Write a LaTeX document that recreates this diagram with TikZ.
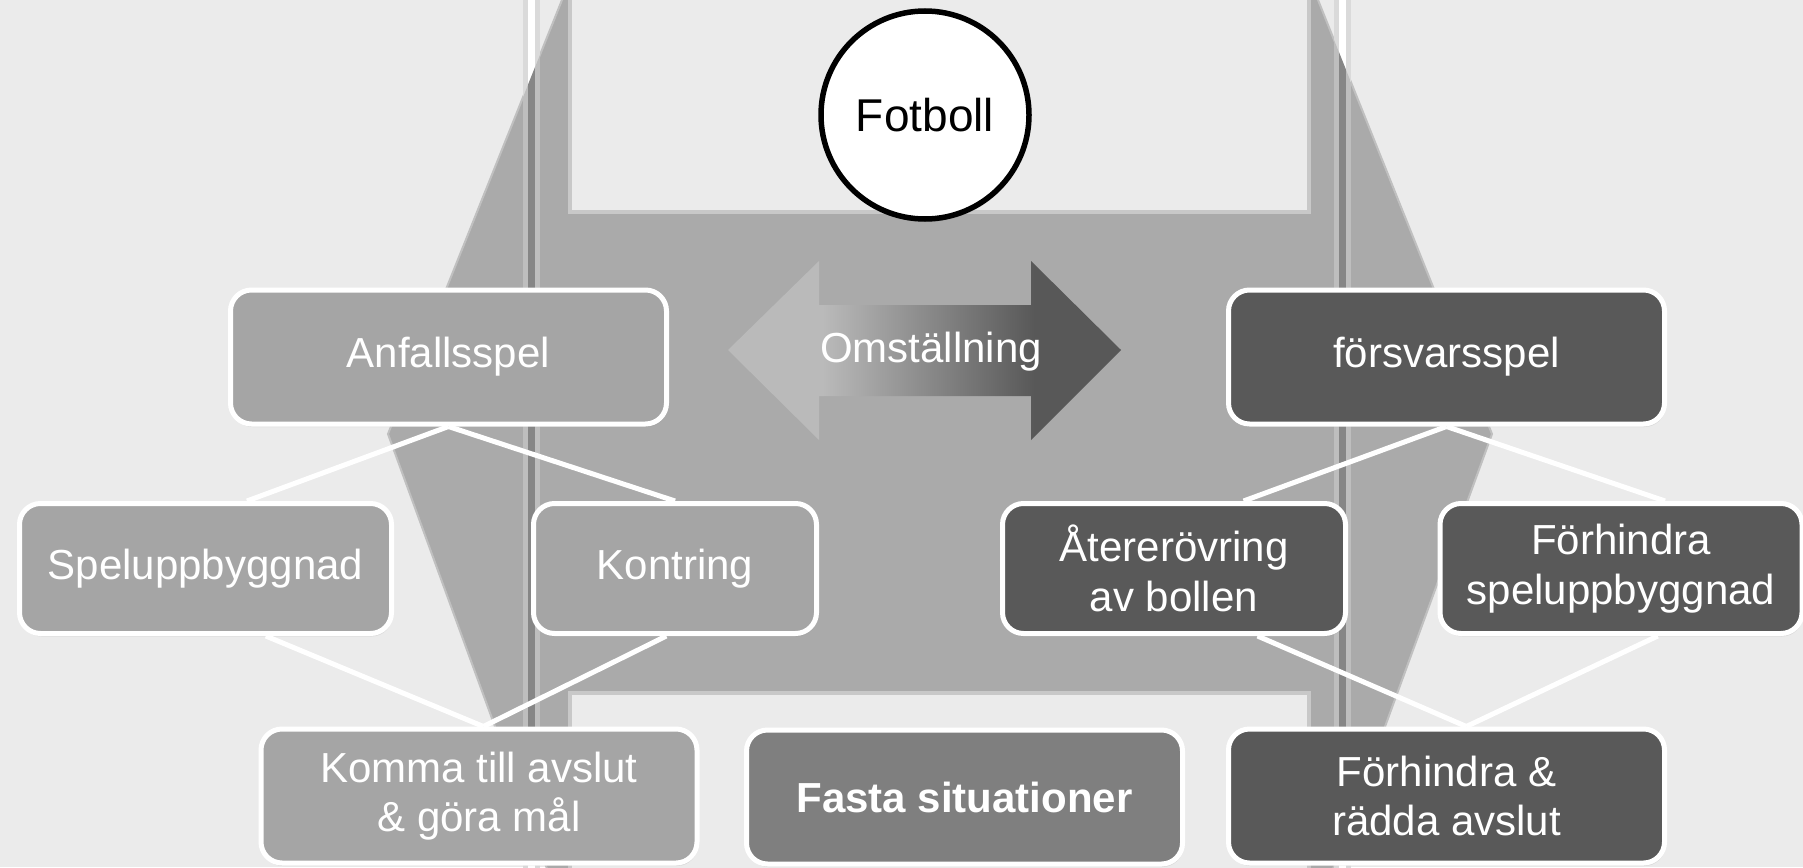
\documentclass[tikz,border=0pt]{standalone}
\usepackage{fontspec}
\setmainfont{Liberation Sans}
\usetikzlibrary{calc,shadows}

\definecolor{bgc}{HTML}{EBEBEB}
\definecolor{fieldc}{HTML}{AAAAAA}
\definecolor{fieldedge}{HTML}{C0C0C0}
\definecolor{rectedge}{HTML}{C8C8C8}
\definecolor{lightbox}{HTML}{A5A5A5}
\definecolor{midbox}{HTML}{7F7F7F}
\definecolor{darkbox}{HTML}{595959}
\definecolor{postside}{HTML}{BEBEBE}
\definecolor{postcore}{HTML}{868686}
\definecolor{postsideout}{HTML}{DADADA}
\definecolor{arrowl}{HTML}{BABABA}
\definecolor{arrowr}{HTML}{585858}

% light on the left head, dark on the right head, blend along the shaft
\pgfdeclarehorizontalshading{omst}{100bp}{color(0bp)=(arrowl); color(37bp)=(arrowl); color(64bp)=(arrowr); color(100bp)=(arrowr)}

\tikzset{
  box/.style={rectangle, rounded corners=21pt, draw=white, line width=5pt,
    text=white, align=center, inner sep=0pt,
    font=\fontsize{42}{49.5}\selectfont,
    drop shadow={opacity=0.18, shadow xshift=1pt, shadow yshift=-3pt}},
  wide/.style={box, minimum width=436pt, minimum height=134pt},
  mid/.style={box, minimum height=130pt},
  conn/.style={draw=white, line width=5pt},
}

\begin{document}
\begin{tikzpicture}[x=1pt, y=-1pt]
  \useasboundingbox (0,0) rectangle (1803,867);
  \clip (0,0) rectangle (1803,867);
  \fill[bgc] (0,0) rectangle (1803,867);

  % pitch outline
  \def\pitch{(566,-10) -- (1314,-10) -- (1492,434) -- (1330,877) -- (550,877) -- (388,434) -- cycle}
  \fill[fieldc] \pitch;
  \draw[fieldedge, line width=2pt] \pitch;

  % goal areas
  \draw[fill=bgc, draw=rectedge, line width=4pt] (570,-10) rectangle (1309,212);
  \draw[fill=bgc, draw=rectedge, line width=4pt] (570,693) rectangle (1309,880);

  % goal posts, light where they cross the background
  \foreach \px in {531.5,1342}{
    \draw[postsideout, line width=17pt] (\px,-5) -- (\px,872);
    \draw[white, line width=7pt] (\px,-5) -- (\px,872);
  }
  \begin{scope}
    \clip \pitch;
    \foreach \px in {531.5,1342}{
      \draw[postside, line width=17pt] (\px,-5) -- (\px,872);
      \draw[postcore, line width=7pt] (\px,-5) -- (\px,872);
    }
  \end{scope}

  % transition arrow
  \path[shading=omst] (728,350) -- (819,261) -- (819,305) -- (1031,305) -- (1031,261)
    -- (1121,350) -- (1031,440) -- (1031,396) -- (819,396) -- (819,440) -- cycle;
  \node[text=white, font=\fontsize{42}{49.5}\selectfont] (omst) at (931,352) {Omställning};

  % centre circle
  \node[circle, draw=black, fill=white, line width=5.5pt, minimum size=208pt, inner sep=0pt,
        font=\fontsize{46}{50}\selectfont,
        drop shadow={opacity=0.2, shadow xshift=1pt, shadow yshift=-3pt}] (fot) at (925,115) {Fotboll};

  % phases of play
  \node[wide, fill=lightbox] (anf)  at (448.5,357) {Anfallsspel};
  \node[wide, fill=darkbox]  (fors) at (1446.5,357) {försvarsspel};

  \node[mid, fill=lightbox, minimum width=372pt] (spel)  at (205.5,568.5) {Speluppbyggnad};
  \node[mid, fill=lightbox, minimum width=283pt] (kont)  at (675,568.5) {Kontring};
  \node[mid, fill=darkbox,  minimum width=343pt] (ater)  at (1174,568.5) {Återerövring\\av bollen};
  \node[mid, fill=darkbox,  minimum width=362pt] (forsp) at (1621,568.5) {Förhindra\\speluppbyggnad};

  \node[wide, fill=lightbox] (komma) at (479,796) {Komma till avslut\\\& göra mål};
  \node[wide, fill=midbox, font=\fontsize{42}{49.5}\selectfont\bfseries] (fasta) at (964.5,797) {Fasta situationer};
  \node[wide, fill=darkbox]  (forr)  at (1446.5,796) {Förhindra \&\\rädda avslut};

  % connectors
  \draw[conn] (anf.south) -- ($(spel.north west)!0.61!(spel.north east)$);
  \draw[conn] (anf.south) -- ($(kont.north west)!0.5!(kont.north east)$);
  \draw[conn] ($(spel.south west)!0.66!(spel.south east)$) -- ($(komma.north west)!0.51!(komma.north east)$);
  \draw[conn] ($(kont.south west)!0.47!(kont.south east)$) -- ($(komma.north west)!0.51!(komma.north east)$);

  \draw[conn] (fors.south) -- ($(ater.north west)!0.70!(ater.north east)$);
  \draw[conn] (fors.south) -- ($(forsp.north west)!0.62!(forsp.north east)$);
  \draw[conn] ($(ater.south west)!0.74!(ater.south east)$) -- ($(forr.north west)!0.545!(forr.north east)$);
  \draw[conn] ($(forsp.south west)!0.60!(forsp.south east)$) -- ($(forr.north west)!0.545!(forr.north east)$);
\end{tikzpicture}
\end{document}
